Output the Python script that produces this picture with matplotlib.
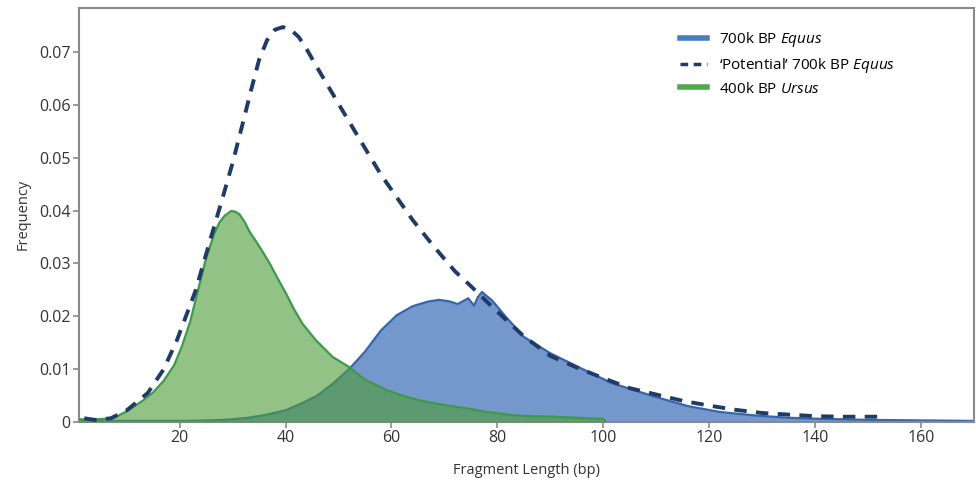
import matplotlib
matplotlib.use("Agg")
import matplotlib.pyplot as plt
from matplotlib.lines import Line2D

# ---- fonts ----
plt.rcParams['font.family'] = ['Open Sans', 'DejaVu Sans']
plt.rcParams['mathtext.fontset'] = 'custom'
plt.rcParams['mathtext.rm'] = 'Open Sans'
plt.rcParams['mathtext.it'] = 'Open Sans:italic'

# ---- data ----
# 'Potential' 700k BP Equus (dashed curve)
x_potential = [2, 4, 7, 10, 14, 17, 19.5, 23, 26, 28, 30, 32, 33.5, 35, 36.5, 38, 39.5, 41,
               42.5, 44, 46, 48, 51, 55, 58, 61, 64, 68, 72, 75, 79, 85, 90, 95, 100, 105,
               110, 115, 120, 125, 130, 135, 140, 145, 152]
y_potential = [0.0007, 0.0004, 0.0007, 0.0022, 0.0055, 0.0100, 0.0155, 0.0248, 0.0352, 0.0420,
               0.0490, 0.0568, 0.0628, 0.0685, 0.0722, 0.0742, 0.0747, 0.0742,
               0.0728, 0.0705, 0.0670, 0.0636, 0.0585, 0.0518, 0.0468, 0.0425, 0.0382, 0.0332,
               0.0285, 0.0257, 0.0218, 0.0162, 0.0125, 0.0103, 0.0083, 0.0064,
               0.0052, 0.0040, 0.0031, 0.0023, 0.0017, 0.0014, 0.0011, 0.0010, 0.0010]

# 700k BP Equus (blue area)
x_equus = [1, 10, 20, 26, 30, 33, 36, 40, 43, 46, 49, 52, 55, 58, 61, 64, 67, 69, 71, 72.5,
           74.5, 75.6, 76.3, 77.1, 78, 79, 81.5, 85, 90, 96.5, 101.5, 104, 110, 116, 122,
           129, 135, 141, 150, 160, 170]
y_equus = [0.0002, 0.0002, 0.0002, 0.0003, 0.0005, 0.0008, 0.0013, 0.0022, 0.0035, 0.0050,
           0.0073, 0.0100, 0.0133, 0.0173, 0.0202, 0.0219, 0.0228, 0.0231, 0.0228, 0.0223,
           0.0234, 0.0220, 0.0236, 0.0246, 0.0238, 0.0230, 0.0200, 0.0161, 0.0130, 0.0098,
           0.0074, 0.0066, 0.0047, 0.0030, 0.0019, 0.0012, 0.0008, 0.0006, 0.0004, 0.0003,
           0.0002]

# 400k BP Ursus (green area)
x_ursus = [1, 4, 7.4, 10, 13, 15, 17, 19, 20.5, 22, 23.5, 25, 26.5, 27.5, 28.5, 29.7, 30.5,
           31.3, 32.3, 33.2, 34.4, 35.5, 37, 38.5, 40.1, 41.5, 43.2, 45.7, 48.9, 52, 55, 58.9,
           62, 65.2, 70, 74.7, 78, 82.8, 86, 90.3, 95, 100, 100.5]
y_ursus = [0.0005, 0.0005, 0.0007, 0.0020, 0.0040, 0.0056, 0.0078, 0.0108, 0.0145, 0.0190,
           0.0250, 0.0310, 0.0355, 0.0377, 0.0390, 0.0399, 0.0398, 0.0393, 0.0378, 0.0360,
           0.0342, 0.0325, 0.0300, 0.0272, 0.0243, 0.0215, 0.0186, 0.0155, 0.0123, 0.0104,
           0.0080, 0.0061, 0.0050, 0.0041, 0.0032, 0.0025, 0.0019, 0.0013, 0.0011, 0.0010,
           0.0008, 0.0006, 0.0]

x_ticks = [20, 40, 60, 80, 100, 120, 140, 160]
y_ticks = [0, 0.01, 0.02, 0.03, 0.04, 0.05, 0.06, 0.07]
y_tick_labels = ['0', '0.01', '0.02', '0.03', '0.04', '0.05', '0.06', '0.07']

legend_labels = ['700k BP $\\mathit{Equus}$',
                 '\u2018Potential\u2019 700k BP $\\mathit{Equus}$',
                 '400k BP $\\mathit{Ursus}$']

# ---- colours ----
blue_fill = '#7497cc'
blue_edge = '#3565ac'
green_fill = '#4f9d3c'
green_edge = '#3d9a48'
navy = '#1f3b66'
spine_grey = '#8a8a8a'
text_grey = '#333333'

fig = plt.figure(figsize=(9.76, 4.92), dpi=100)
ax = fig.add_axes([79 / 976, 1 - 422 / 492, (974 - 79) / 976, (422 - 7.5) / 492])

# blue area first, green on top with some transparency, dashed curve over everything
ax.fill_between(x_equus, y_equus, 0, color=blue_fill, lw=0, zorder=1)
ax.plot(x_equus, y_equus, color=blue_edge, lw=1.6, zorder=2)
ax.fill_between(x_ursus, y_ursus, 0, color=green_fill, alpha=0.62, lw=0, zorder=3)
ax.plot(x_ursus, y_ursus, color=green_edge, lw=1.6, zorder=4)
ax.plot(x_potential, y_potential, color=navy, lw=2.8, ls=(0, (3.2, 2.4)), zorder=5)

# ---- axes styling ----
ax.set_xlim(1, 170)
ax.set_ylim(0, 0.0784)
ax.set_xticks(x_ticks)
ax.set_yticks(y_ticks)
ax.set_yticklabels(y_tick_labels)
for s in ax.spines.values():
    s.set_color(spine_grey)
    s.set_linewidth(1.5)
ax.tick_params(axis='both', colors=spine_grey, labelcolor=text_grey, labelsize=11.5,
               length=4, width=1.2, pad=2)

ax.set_xlabel('Fragment Length (bp)', fontsize=10.5, color=text_grey, labelpad=12)
ax.set_ylabel('Frequency', fontsize=10.5, color=text_grey, labelpad=6)

# ---- legend ----
handles = [Line2D([], [], color='#4a7cc2', lw=4),
           Line2D([], [], color=navy, lw=2.5, ls=(0, (2.2, 1.6))),
           Line2D([], [], color='#4ea84e', lw=4)]
ax.legend(handles, legend_labels, loc='upper left', bbox_to_anchor=(680 / 976, 1 - 30 / 492),
          bbox_transform=fig.transFigure, frameon=False, fontsize=11, borderpad=0,
          handlelength=1.75, handletextpad=0.8, labelspacing=0.45, borderaxespad=0)

fig.savefig('out.png', dpi=100)
